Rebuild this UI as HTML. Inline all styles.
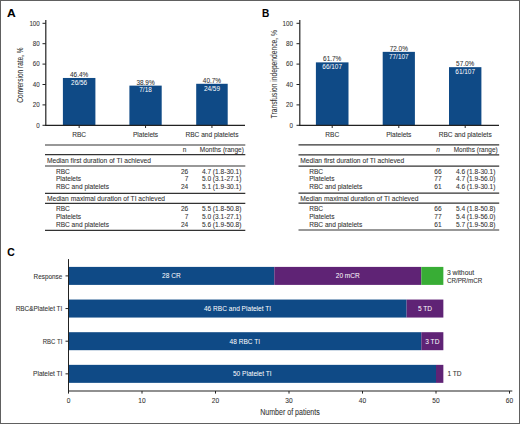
<!DOCTYPE html>
<html><head><meta charset="utf-8"><style>
html,body{margin:0;padding:0;background:#fff;}
body{width:520px;height:424px;overflow:hidden;}
svg{display:block;font-family:"Liberation Sans", sans-serif;}
</style></head><body>
<svg width="520" height="424" viewBox="0 0 520 424">
<rect x="0" y="0" width="520" height="424" fill="#fff"/>
<text x="7.00" y="16.60" font-size="11.6" fill="#000" textLength="8.70" lengthAdjust="spacingAndGlyphs" font-weight="bold" stroke="#000" stroke-width="0.08">A</text>
<text x="262.10" y="16.50" font-size="11.6" fill="#000" textLength="7.30" lengthAdjust="spacingAndGlyphs" font-weight="bold" stroke="#000" stroke-width="0.08">B</text>
<text x="7.30" y="255.90" font-size="11.6" fill="#000" textLength="7.50" lengthAdjust="spacingAndGlyphs" font-weight="bold" stroke="#000" stroke-width="0.08">C</text>
<rect x="62.90" y="77.97" width="32.50" height="47.53" fill="#0f4a86"/>
<text x="70.02" y="76.87" font-size="7" fill="#333" textLength="18.26" lengthAdjust="spacingAndGlyphs" stroke="#333" stroke-width="0.08">46.4%</text>
<text x="71.09" y="84.77" font-size="7" fill="#fff" textLength="16.11" lengthAdjust="spacingAndGlyphs" stroke="#fff" stroke-width="0">26/56</text>
<line x1="79.15" y1="125.5" x2="79.15" y2="128" stroke="#222" stroke-width="1"/>
<text x="72.20" y="136.90" font-size="7" fill="#333" textLength="13.89" lengthAdjust="spacingAndGlyphs" stroke="#333" stroke-width="0.08">RBC</text>
<rect x="129.40" y="85.62" width="32.30" height="39.88" fill="#0f4a86"/>
<text x="136.42" y="84.52" font-size="7" fill="#333" textLength="18.26" lengthAdjust="spacingAndGlyphs" stroke="#333" stroke-width="0.08">38.9%</text>
<text x="139.28" y="92.42" font-size="7" fill="#fff" textLength="12.53" lengthAdjust="spacingAndGlyphs" stroke="#fff" stroke-width="0">7/18</text>
<line x1="145.55" y1="125.5" x2="145.55" y2="128" stroke="#222" stroke-width="1"/>
<text x="132.93" y="136.90" font-size="7" fill="#333" textLength="25.24" lengthAdjust="spacingAndGlyphs" stroke="#333" stroke-width="0.08">Platelets</text>
<rect x="196.20" y="83.79" width="31.50" height="41.71" fill="#0f4a86"/>
<text x="202.82" y="82.69" font-size="7" fill="#333" textLength="18.26" lengthAdjust="spacingAndGlyphs" stroke="#333" stroke-width="0.08">40.7%</text>
<text x="203.89" y="90.59" font-size="7" fill="#fff" textLength="16.11" lengthAdjust="spacingAndGlyphs" stroke="#fff" stroke-width="0">24/59</text>
<line x1="211.95" y1="125.5" x2="211.95" y2="128" stroke="#222" stroke-width="1"/>
<text x="185.43" y="136.90" font-size="7" fill="#333" textLength="53.03" lengthAdjust="spacingAndGlyphs" stroke="#333" stroke-width="0.08">RBC and platelets</text>
<line x1="45.8" y1="20" x2="45.8" y2="126" stroke="#222" stroke-width="1.2"/>
<line x1="45.3" y1="125.3" x2="245" y2="125.3" stroke="#222" stroke-width="1.2"/>
<line x1="42.5" y1="125.3" x2="45.8" y2="125.3" stroke="#222" stroke-width="1"/>
<text x="36.33" y="127.50" font-size="7.6" fill="#333" textLength="3.47" lengthAdjust="spacingAndGlyphs" stroke="#333" stroke-width="0.08">0</text>
<line x1="42.5" y1="104.9" x2="45.8" y2="104.9" stroke="#222" stroke-width="1"/>
<text x="32.87" y="107.10" font-size="7.6" fill="#333" textLength="6.93" lengthAdjust="spacingAndGlyphs" stroke="#333" stroke-width="0.08">20</text>
<line x1="42.5" y1="84.5" x2="45.8" y2="84.5" stroke="#222" stroke-width="1"/>
<text x="32.87" y="86.70" font-size="7.6" fill="#333" textLength="6.93" lengthAdjust="spacingAndGlyphs" stroke="#333" stroke-width="0.08">40</text>
<line x1="42.5" y1="64.1" x2="45.8" y2="64.1" stroke="#222" stroke-width="1"/>
<text x="32.87" y="66.30" font-size="7.6" fill="#333" textLength="6.93" lengthAdjust="spacingAndGlyphs" stroke="#333" stroke-width="0.08">60</text>
<line x1="42.5" y1="43.7" x2="45.8" y2="43.7" stroke="#222" stroke-width="1"/>
<text x="32.87" y="45.90" font-size="7.6" fill="#333" textLength="6.93" lengthAdjust="spacingAndGlyphs" stroke="#333" stroke-width="0.08">80</text>
<line x1="42.5" y1="23.299999999999997" x2="45.8" y2="23.299999999999997" stroke="#222" stroke-width="1"/>
<text x="29.40" y="25.50" font-size="7.6" fill="#333" textLength="10.40" lengthAdjust="spacingAndGlyphs" stroke="#333" stroke-width="0.08">100</text>
<text transform="translate(23.40,75.10) rotate(-90)" x="-27.70" y="0" font-size="9.5" fill="#333" textLength="55.40" lengthAdjust="spacingAndGlyphs" stroke="#333" stroke-width="0.08">Conversion rate, %</text>
<line x1="45" y1="145.0" x2="245.3" y2="145.0" stroke="#333" stroke-width="1.2"/>
<line x1="45" y1="154.7" x2="245.3" y2="154.7" stroke="#333" stroke-width="1.2"/>
<line x1="45" y1="166.0" x2="245.3" y2="166.0" stroke="#333" stroke-width="1.2"/>
<line x1="45" y1="193.45" x2="245.3" y2="193.45" stroke="#333" stroke-width="1.2"/>
<line x1="45" y1="203.4" x2="245.3" y2="203.4" stroke="#333" stroke-width="1.2"/>
<line x1="45" y1="230.3" x2="245.3" y2="230.3" stroke="#333" stroke-width="1.2"/>
<text x="182.87" y="151.60" font-size="7" fill="#333" textLength="3.66" lengthAdjust="spacingAndGlyphs" stroke="#333" stroke-width="0.08">n</text>
<text x="199.80" y="151.60" font-size="7" fill="#333" textLength="44.00" lengthAdjust="spacingAndGlyphs" stroke="#333" stroke-width="0.08">Months (range)</text>
<text x="46.90" y="162.70" font-size="7" fill="#333" textLength="104.00" lengthAdjust="spacingAndGlyphs" stroke="#333" stroke-width="0.08">Median first duration of TI achieved</text>
<text x="46.90" y="200.80" font-size="7" fill="#333" textLength="118.20" lengthAdjust="spacingAndGlyphs" stroke="#333" stroke-width="0.08">Median maximal duration of TI achieved</text>
<text x="55.90" y="173.60" font-size="7" fill="#333" textLength="13.89" lengthAdjust="spacingAndGlyphs" stroke="#333" stroke-width="0.08">RBC</text>
<text x="180.98" y="173.60" font-size="7" fill="#333" textLength="7.32" lengthAdjust="spacingAndGlyphs" stroke="#333" stroke-width="0.08">26</text>
<text x="201.90" y="173.60" font-size="7" fill="#333" textLength="39.50" lengthAdjust="spacingAndGlyphs" stroke="#333" stroke-width="0.08">4.7 (1.8-30.1)</text>
<text x="55.90" y="181.40" font-size="7" fill="#333" textLength="25.24" lengthAdjust="spacingAndGlyphs" stroke="#333" stroke-width="0.08">Platelets</text>
<text x="184.64" y="181.40" font-size="7" fill="#333" textLength="3.66" lengthAdjust="spacingAndGlyphs" stroke="#333" stroke-width="0.08">7</text>
<text x="201.90" y="181.40" font-size="7" fill="#333" textLength="39.50" lengthAdjust="spacingAndGlyphs" stroke="#333" stroke-width="0.08">5.0 (3.1-27.1)</text>
<text x="55.90" y="189.20" font-size="7" fill="#333" textLength="53.03" lengthAdjust="spacingAndGlyphs" stroke="#333" stroke-width="0.08">RBC and platelets</text>
<text x="180.98" y="189.20" font-size="7" fill="#333" textLength="7.32" lengthAdjust="spacingAndGlyphs" stroke="#333" stroke-width="0.08">24</text>
<text x="201.90" y="189.20" font-size="7" fill="#333" textLength="39.50" lengthAdjust="spacingAndGlyphs" stroke="#333" stroke-width="0.08">5.1 (1.9-30.1)</text>
<text x="55.90" y="211.20" font-size="7" fill="#333" textLength="13.89" lengthAdjust="spacingAndGlyphs" stroke="#333" stroke-width="0.08">RBC</text>
<text x="180.98" y="211.20" font-size="7" fill="#333" textLength="7.32" lengthAdjust="spacingAndGlyphs" stroke="#333" stroke-width="0.08">26</text>
<text x="201.90" y="211.20" font-size="7" fill="#333" textLength="39.50" lengthAdjust="spacingAndGlyphs" stroke="#333" stroke-width="0.08">5.5 (1.8-50.8)</text>
<text x="55.90" y="219.00" font-size="7" fill="#333" textLength="25.24" lengthAdjust="spacingAndGlyphs" stroke="#333" stroke-width="0.08">Platelets</text>
<text x="184.64" y="219.00" font-size="7" fill="#333" textLength="3.66" lengthAdjust="spacingAndGlyphs" stroke="#333" stroke-width="0.08">7</text>
<text x="201.90" y="219.00" font-size="7" fill="#333" textLength="39.50" lengthAdjust="spacingAndGlyphs" stroke="#333" stroke-width="0.08">5.0 (3.1-27.1)</text>
<text x="55.90" y="226.80" font-size="7" fill="#333" textLength="53.03" lengthAdjust="spacingAndGlyphs" stroke="#333" stroke-width="0.08">RBC and platelets</text>
<text x="180.98" y="226.80" font-size="7" fill="#333" textLength="7.32" lengthAdjust="spacingAndGlyphs" stroke="#333" stroke-width="0.08">24</text>
<text x="201.90" y="226.80" font-size="7" fill="#333" textLength="39.50" lengthAdjust="spacingAndGlyphs" stroke="#333" stroke-width="0.08">5.6 (1.9-50.8)</text>
<rect x="315.90" y="62.37" width="32.60" height="63.13" fill="#0f4a86"/>
<text x="323.07" y="61.27" font-size="7" fill="#333" textLength="18.26" lengthAdjust="spacingAndGlyphs" stroke="#333" stroke-width="0.08">61.7%</text>
<text x="322.35" y="69.17" font-size="7" fill="#fff" textLength="19.70" lengthAdjust="spacingAndGlyphs" stroke="#fff" stroke-width="0">66/107</text>
<line x1="332.2" y1="125.5" x2="332.2" y2="128" stroke="#222" stroke-width="1"/>
<text x="325.25" y="136.90" font-size="7" fill="#333" textLength="13.89" lengthAdjust="spacingAndGlyphs" stroke="#333" stroke-width="0.08">RBC</text>
<rect x="382.70" y="51.86" width="32.20" height="73.64" fill="#0f4a86"/>
<text x="389.67" y="50.76" font-size="7" fill="#333" textLength="18.26" lengthAdjust="spacingAndGlyphs" stroke="#333" stroke-width="0.08">72.0%</text>
<text x="388.95" y="58.66" font-size="7" fill="#fff" textLength="19.70" lengthAdjust="spacingAndGlyphs" stroke="#fff" stroke-width="0">77/107</text>
<line x1="398.8" y1="125.5" x2="398.8" y2="128" stroke="#222" stroke-width="1"/>
<text x="386.18" y="136.90" font-size="7" fill="#333" textLength="25.24" lengthAdjust="spacingAndGlyphs" stroke="#333" stroke-width="0.08">Platelets</text>
<rect x="449.00" y="67.16" width="32.40" height="58.34" fill="#0f4a86"/>
<text x="456.07" y="66.06" font-size="7" fill="#333" textLength="18.26" lengthAdjust="spacingAndGlyphs" stroke="#333" stroke-width="0.08">57.0%</text>
<text x="455.35" y="73.96" font-size="7" fill="#fff" textLength="19.70" lengthAdjust="spacingAndGlyphs" stroke="#fff" stroke-width="0">61/107</text>
<line x1="465.2" y1="125.5" x2="465.2" y2="128" stroke="#222" stroke-width="1"/>
<text x="438.68" y="136.90" font-size="7" fill="#333" textLength="53.03" lengthAdjust="spacingAndGlyphs" stroke="#333" stroke-width="0.08">RBC and platelets</text>
<line x1="299.8" y1="20" x2="299.8" y2="126" stroke="#222" stroke-width="1.2"/>
<line x1="299.3" y1="125.3" x2="499" y2="125.3" stroke="#222" stroke-width="1.2"/>
<line x1="296.5" y1="125.3" x2="299.8" y2="125.3" stroke="#222" stroke-width="1"/>
<text x="289.53" y="127.50" font-size="7.6" fill="#333" textLength="3.47" lengthAdjust="spacingAndGlyphs" stroke="#333" stroke-width="0.08">0</text>
<line x1="296.5" y1="104.9" x2="299.8" y2="104.9" stroke="#222" stroke-width="1"/>
<text x="286.07" y="107.10" font-size="7.6" fill="#333" textLength="6.93" lengthAdjust="spacingAndGlyphs" stroke="#333" stroke-width="0.08">20</text>
<line x1="296.5" y1="84.5" x2="299.8" y2="84.5" stroke="#222" stroke-width="1"/>
<text x="286.07" y="86.70" font-size="7.6" fill="#333" textLength="6.93" lengthAdjust="spacingAndGlyphs" stroke="#333" stroke-width="0.08">40</text>
<line x1="296.5" y1="64.1" x2="299.8" y2="64.1" stroke="#222" stroke-width="1"/>
<text x="286.07" y="66.30" font-size="7.6" fill="#333" textLength="6.93" lengthAdjust="spacingAndGlyphs" stroke="#333" stroke-width="0.08">60</text>
<line x1="296.5" y1="43.7" x2="299.8" y2="43.7" stroke="#222" stroke-width="1"/>
<text x="286.07" y="45.90" font-size="7.6" fill="#333" textLength="6.93" lengthAdjust="spacingAndGlyphs" stroke="#333" stroke-width="0.08">80</text>
<line x1="296.5" y1="23.299999999999997" x2="299.8" y2="23.299999999999997" stroke="#222" stroke-width="1"/>
<text x="282.60" y="25.50" font-size="7.6" fill="#333" textLength="10.40" lengthAdjust="spacingAndGlyphs" stroke="#333" stroke-width="0.08">100</text>
<text transform="translate(277.40,74.20) rotate(-90)" x="-44.20" y="0" font-size="9.5" fill="#333" textLength="88.40" lengthAdjust="spacingAndGlyphs" stroke="#333" stroke-width="0.08">Transfusion independence, %</text>
<line x1="298.5" y1="144.8" x2="499.2" y2="144.8" stroke="#333" stroke-width="1.2"/>
<line x1="298.5" y1="154.8" x2="499.2" y2="154.8" stroke="#333" stroke-width="1.2"/>
<line x1="298.5" y1="166.1" x2="499.2" y2="166.1" stroke="#333" stroke-width="1.2"/>
<line x1="298.5" y1="193.05" x2="499.2" y2="193.05" stroke="#333" stroke-width="1.2"/>
<line x1="298.5" y1="203.2" x2="499.2" y2="203.2" stroke="#333" stroke-width="1.2"/>
<line x1="298.5" y1="230.0" x2="499.2" y2="230.0" stroke="#333" stroke-width="1.2"/>
<text x="436.17" y="151.60" font-size="7" fill="#333" textLength="3.66" lengthAdjust="spacingAndGlyphs" font-style="italic" stroke="#333" stroke-width="0.08">n</text>
<text x="453.70" y="151.60" font-size="7" fill="#333" textLength="44.00" lengthAdjust="spacingAndGlyphs" stroke="#333" stroke-width="0.08">Months (range)</text>
<text x="300.20" y="162.70" font-size="7" fill="#333" textLength="104.00" lengthAdjust="spacingAndGlyphs" stroke="#333" stroke-width="0.08">Median first duration of TI achieved</text>
<text x="300.20" y="200.80" font-size="7" fill="#333" textLength="118.20" lengthAdjust="spacingAndGlyphs" stroke="#333" stroke-width="0.08">Median maximal duration of TI achieved</text>
<text x="309.20" y="173.60" font-size="7" fill="#333" textLength="13.89" lengthAdjust="spacingAndGlyphs" stroke="#333" stroke-width="0.08">RBC</text>
<text x="434.28" y="173.60" font-size="7" fill="#333" textLength="7.32" lengthAdjust="spacingAndGlyphs" stroke="#333" stroke-width="0.08">66</text>
<text x="455.90" y="173.60" font-size="7" fill="#333" textLength="39.50" lengthAdjust="spacingAndGlyphs" stroke="#333" stroke-width="0.08">4.6 (1.8-30.1)</text>
<text x="309.20" y="181.40" font-size="7" fill="#333" textLength="25.24" lengthAdjust="spacingAndGlyphs" stroke="#333" stroke-width="0.08">Platelets</text>
<text x="434.28" y="181.40" font-size="7" fill="#333" textLength="7.32" lengthAdjust="spacingAndGlyphs" stroke="#333" stroke-width="0.08">77</text>
<text x="455.90" y="181.40" font-size="7" fill="#333" textLength="39.50" lengthAdjust="spacingAndGlyphs" stroke="#333" stroke-width="0.08">4.7 (1.9-56.0)</text>
<text x="309.20" y="189.20" font-size="7" fill="#333" textLength="53.03" lengthAdjust="spacingAndGlyphs" stroke="#333" stroke-width="0.08">RBC and platelets</text>
<text x="434.28" y="189.20" font-size="7" fill="#333" textLength="7.32" lengthAdjust="spacingAndGlyphs" stroke="#333" stroke-width="0.08">61</text>
<text x="455.90" y="189.20" font-size="7" fill="#333" textLength="39.50" lengthAdjust="spacingAndGlyphs" stroke="#333" stroke-width="0.08">4.6 (1.9-30.1)</text>
<text x="309.20" y="211.20" font-size="7" fill="#333" textLength="13.89" lengthAdjust="spacingAndGlyphs" stroke="#333" stroke-width="0.08">RBC</text>
<text x="434.28" y="211.20" font-size="7" fill="#333" textLength="7.32" lengthAdjust="spacingAndGlyphs" stroke="#333" stroke-width="0.08">66</text>
<text x="455.90" y="211.20" font-size="7" fill="#333" textLength="39.50" lengthAdjust="spacingAndGlyphs" stroke="#333" stroke-width="0.08">5.4 (1.8-50.8)</text>
<text x="309.20" y="219.00" font-size="7" fill="#333" textLength="25.24" lengthAdjust="spacingAndGlyphs" stroke="#333" stroke-width="0.08">Platelets</text>
<text x="434.28" y="219.00" font-size="7" fill="#333" textLength="7.32" lengthAdjust="spacingAndGlyphs" stroke="#333" stroke-width="0.08">77</text>
<text x="455.90" y="219.00" font-size="7" fill="#333" textLength="39.50" lengthAdjust="spacingAndGlyphs" stroke="#333" stroke-width="0.08">5.4 (1.9-56.0)</text>
<text x="309.20" y="226.80" font-size="7" fill="#333" textLength="53.03" lengthAdjust="spacingAndGlyphs" stroke="#333" stroke-width="0.08">RBC and platelets</text>
<text x="434.28" y="226.80" font-size="7" fill="#333" textLength="7.32" lengthAdjust="spacingAndGlyphs" stroke="#333" stroke-width="0.08">61</text>
<text x="455.90" y="226.80" font-size="7" fill="#333" textLength="39.50" lengthAdjust="spacingAndGlyphs" stroke="#333" stroke-width="0.08">5.7 (1.9-50.8)</text>
<rect x="68.50" y="266.90" width="205.80" height="18.00" fill="#0f4a86"/>
<text x="162.07" y="278.40" font-size="7" fill="#fff" textLength="18.65" lengthAdjust="spacingAndGlyphs" stroke="#fff" stroke-width="0">28 CR</text>
<rect x="274.30" y="266.90" width="147.00" height="18.00" fill="#5f2375"/>
<text x="335.73" y="278.40" font-size="7" fill="#fff" textLength="24.13" lengthAdjust="spacingAndGlyphs" stroke="#fff" stroke-width="0">20 mCR</text>
<rect x="421.30" y="266.90" width="22.05" height="18.00" fill="#38ad35"/>
<line x1="65.5" y1="275.9" x2="68.5" y2="275.9" stroke="#222" stroke-width="1"/>
<text x="33.60" y="278.50" font-size="7" fill="#333" textLength="28.70" lengthAdjust="spacingAndGlyphs" stroke="#333" stroke-width="0.08">Response</text>
<rect x="68.50" y="299.55" width="338.10" height="18.00" fill="#0f4a86"/>
<text x="203.96" y="311.05" font-size="7" fill="#fff" textLength="67.17" lengthAdjust="spacingAndGlyphs" stroke="#fff" stroke-width="0">46 RBC and Platelet TI</text>
<rect x="406.60" y="299.55" width="36.75" height="18.00" fill="#5f2375"/>
<text x="417.91" y="311.05" font-size="7" fill="#fff" textLength="14.14" lengthAdjust="spacingAndGlyphs" stroke="#fff" stroke-width="0">5 TD</text>
<line x1="65.5" y1="308.55" x2="68.5" y2="308.55" stroke="#222" stroke-width="1"/>
<text x="15.70" y="311.15" font-size="7" fill="#333" textLength="46.60" lengthAdjust="spacingAndGlyphs" stroke="#333" stroke-width="0.08">RBC&amp;Platelet TI</text>
<rect x="68.50" y="332.20" width="352.80" height="18.00" fill="#0f4a86"/>
<text x="229.60" y="343.70" font-size="7" fill="#fff" textLength="30.59" lengthAdjust="spacingAndGlyphs" stroke="#fff" stroke-width="0">48 RBC TI</text>
<rect x="421.30" y="332.20" width="22.05" height="18.00" fill="#5f2375"/>
<text x="425.26" y="343.70" font-size="7" fill="#fff" textLength="14.14" lengthAdjust="spacingAndGlyphs" stroke="#fff" stroke-width="0">3 TD</text>
<line x1="65.5" y1="341.2" x2="68.5" y2="341.2" stroke="#222" stroke-width="1"/>
<text x="42.80" y="343.80" font-size="7" fill="#333" textLength="19.50" lengthAdjust="spacingAndGlyphs" stroke="#333" stroke-width="0.08">RBC TI</text>
<rect x="68.50" y="364.85" width="367.50" height="18.00" fill="#0f4a86"/>
<text x="232.93" y="376.35" font-size="7" fill="#fff" textLength="38.65" lengthAdjust="spacingAndGlyphs" stroke="#fff" stroke-width="0">50 Platelet TI</text>
<rect x="436.00" y="364.85" width="7.35" height="18.00" fill="#5f2375"/>
<line x1="65.5" y1="373.85" x2="68.5" y2="373.85" stroke="#222" stroke-width="1"/>
<text x="33.10" y="376.45" font-size="7" fill="#333" textLength="29.20" lengthAdjust="spacingAndGlyphs" stroke="#333" stroke-width="0.08">Platelet TI</text>
<text x="446.90" y="275.20" font-size="7" fill="#333" textLength="27.20" lengthAdjust="spacingAndGlyphs" stroke="#333" stroke-width="0.08">3 without</text>
<text x="446.90" y="282.60" font-size="7" fill="#333" textLength="35.40" lengthAdjust="spacingAndGlyphs" stroke="#333" stroke-width="0.08">CR/PR/mCR</text>
<text x="447.40" y="376.00" font-size="7" fill="#333" textLength="14.14" lengthAdjust="spacingAndGlyphs" stroke="#333" stroke-width="0.08">1 TD</text>
<line x1="68.5" y1="259.1" x2="68.5" y2="391" stroke="#222" stroke-width="1"/>
<line x1="68" y1="391.0" x2="512.3" y2="391.0" stroke="#222" stroke-width="1.2"/>
<line x1="68.5" y1="391.0" x2="68.5" y2="393.6" stroke="#222" stroke-width="1"/>
<text x="66.66" y="403.00" font-size="7.5" fill="#333" textLength="3.67" lengthAdjust="spacingAndGlyphs" stroke="#333" stroke-width="0.08">0</text>
<line x1="142.0" y1="391.0" x2="142.0" y2="393.6" stroke="#222" stroke-width="1"/>
<text x="138.33" y="403.00" font-size="7.5" fill="#333" textLength="7.34" lengthAdjust="spacingAndGlyphs" stroke="#333" stroke-width="0.08">10</text>
<line x1="215.5" y1="391.0" x2="215.5" y2="393.6" stroke="#222" stroke-width="1"/>
<text x="211.83" y="403.00" font-size="7.5" fill="#333" textLength="7.34" lengthAdjust="spacingAndGlyphs" stroke="#333" stroke-width="0.08">20</text>
<line x1="289.0" y1="391.0" x2="289.0" y2="393.6" stroke="#222" stroke-width="1"/>
<text x="285.33" y="403.00" font-size="7.5" fill="#333" textLength="7.34" lengthAdjust="spacingAndGlyphs" stroke="#333" stroke-width="0.08">30</text>
<line x1="362.5" y1="391.0" x2="362.5" y2="393.6" stroke="#222" stroke-width="1"/>
<text x="358.83" y="403.00" font-size="7.5" fill="#333" textLength="7.34" lengthAdjust="spacingAndGlyphs" stroke="#333" stroke-width="0.08">40</text>
<line x1="436.0" y1="391.0" x2="436.0" y2="393.6" stroke="#222" stroke-width="1"/>
<text x="432.33" y="403.00" font-size="7.5" fill="#333" textLength="7.34" lengthAdjust="spacingAndGlyphs" stroke="#333" stroke-width="0.08">50</text>
<line x1="509.5" y1="391.0" x2="509.5" y2="393.6" stroke="#222" stroke-width="1"/>
<text x="505.83" y="403.00" font-size="7.5" fill="#333" textLength="7.34" lengthAdjust="spacingAndGlyphs" stroke="#333" stroke-width="0.08">60</text>
<text x="260.20" y="415.00" font-size="8.5" fill="#333" textLength="59.60" lengthAdjust="spacingAndGlyphs" stroke="#333" stroke-width="0.08">Number of patients</text>
<rect x="0.5" y="0.5" width="519" height="423" fill="none" stroke="#606060" stroke-width="1"/>
</svg>
</body></html>
